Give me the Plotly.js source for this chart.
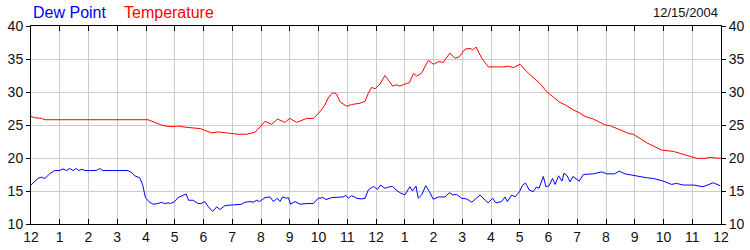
<!DOCTYPE html>
<html>
<head>
<meta charset="utf-8">
<script src="https://cdn.plot.ly/plotly-3.0.1.min.js"></script>
<style>html,body{margin:0;padding:0;background:#fff;}#chart{width:750px;height:250px;}</style>
</head>
<body>
<div id="chart"></div>
<script>
// Hours since midnight 12/15/2004
const tempHours = [0.0,0.13,0.36,0.5,4.07,4.3,4.59,4.88,5.11,5.4,5.69,5.9,6.04,6.28,6.52,6.75,6.92,7.2,7.5,7.79,7.97,8.14,8.37,8.57,8.83,9.0,9.24,9.59,9.82,10.05,10.2,10.34,10.49,10.63,10.75,10.98,11.15,11.44,11.62,11.73,11.85,11.97,12.14,12.31,12.43,12.58,12.72,12.83,13.07,13.16,13.3,13.42,13.59,13.82,14.0,14.17,14.34,14.57,14.75,14.9,15.1,15.27,15.36,15.48,15.68,15.91,16.43,16.6,16.78,17.01,17.24,17.45,17.7,17.94,18.23,18.4,18.6,18.86,19.1,19.27,19.56,19.75,19.97,20.14,20.35,20.6,20.8,20.95,21.2,21.42,21.7,21.94,22.34,22.6,22.81,23.16,23.45,23.62,23.8,24.0];
const temperature = [26.3,26.1,26.0,25.8,25.8,25.35,24.9,24.75,24.85,24.65,24.5,24.45,24.2,23.8,23.95,23.8,23.7,23.6,23.6,23.9,24.7,25.55,25.1,25.9,25.4,26.0,25.4,26.0,26.0,27.0,27.9,29.1,29.9,29.7,28.5,27.85,28.1,28.3,28.6,29.8,30.7,30.5,31.2,32.5,31.8,30.9,31.1,30.9,31.3,31.4,32.8,32.4,32.9,34.8,34.2,34.6,34.5,35.9,35.1,35.35,36.5,36.6,36.4,36.8,35.1,33.8,33.8,33.9,33.7,34.2,33.1,32.3,31.3,30.05,29.0,28.4,28.0,27.3,26.8,26.3,25.9,25.5,25.0,24.9,24.5,24.0,23.7,23.6,22.9,22.3,21.7,21.2,21.0,20.7,20.45,19.95,19.95,20.1,20.0,19.95];

const dewHours = [0.0,0.07,0.24,0.36,0.48,0.65,0.82,1.0,1.11,1.23,1.35,1.46,1.58,1.66,1.77,1.87,2.27,2.39,2.5,3.37,3.5,3.61,3.78,3.88,3.98,4.1,4.24,4.42,4.53,4.65,4.77,4.86,5.0,5.11,5.29,5.4,5.48,5.63,5.81,5.92,6.04,6.17,6.32,6.46,6.57,6.75,7.04,7.33,7.44,7.62,7.73,7.85,7.95,8.14,8.31,8.43,8.57,8.66,8.75,8.89,8.95,9.03,9.18,9.36,9.6,9.82,9.99,10.17,10.26,10.46,10.86,10.95,11.04,11.15,11.33,11.5,11.62,11.73,11.91,12.05,12.16,12.31,12.43,12.58,12.7,12.83,13.0,13.18,13.27,13.39,13.47,13.59,13.73,13.86,13.99,14.17,14.4,14.55,14.67,14.8,14.98,15.15,15.33,15.45,15.62,15.8,15.9,16.06,16.17,16.37,16.49,16.57,16.72,16.84,16.99,17.1,17.2,17.33,17.47,17.58,17.67,17.82,17.91,18.02,18.14,18.23,18.35,18.47,18.54,18.65,18.75,18.85,19.07,19.21,19.56,19.85,20.02,20.3,20.46,20.66,21.01,21.2,21.42,21.65,21.99,22.28,22.45,22.69,23.05,23.38,23.6,23.73,23.97];
const dewPoint = [15.9,16.2,16.9,17.1,16.9,17.6,18.1,18.1,18.35,18.1,18.4,18.1,18.4,18.1,18.3,18.1,18.1,18.4,18.1,18.1,17.8,17.3,17.0,16.0,14.0,13.4,13.0,13.1,13.3,13.1,13.2,13.1,13.4,14.0,14.35,14.55,13.6,13.6,13.1,13.1,13.4,12.6,11.9,12.6,12.2,12.8,12.9,13.0,13.3,13.4,13.3,13.6,13.4,14.0,14.1,13.4,13.9,13.4,14.1,13.9,14.0,13.0,13.4,13.0,13.1,13.1,13.9,14.0,13.7,14.0,14.1,14.35,13.9,14.3,13.9,13.8,13.9,15.15,15.7,15.25,15.9,15.4,15.6,15.7,15.15,14.75,14.4,15.65,15.0,15.75,13.9,14.4,15.8,14.9,13.75,14.1,14.1,14.75,14.4,14.5,13.9,13.8,13.3,13.7,14.4,13.6,13.2,13.9,13.2,13.4,14.1,13.4,14.4,14.1,14.9,15.9,16.2,15.15,14.9,15.6,15.4,17.2,15.65,15.8,16.9,16.0,17.3,16.5,17.7,17.3,16.4,17.2,16.5,17.5,17.6,17.9,17.6,17.6,18.0,17.6,17.3,17.2,17.0,16.9,16.5,16.0,16.15,15.9,15.9,15.65,16.1,16.25,15.8];

const hourTicks = [0,1,2,3,4,5,6,7,8,9,10,11,12,13,14,15,16,17,18,19,20,21,22,23,24];
const hourLabels = ["12","1","2","3","4","5","6","7","8","9","10","11","12","1","2","3","4","5","6","7","8","9","10","11","12"];
const yTicks = [10,15,20,25,30,35,40];
const dateLabel = "12/15/2004";

const font = "Arial, 'Liberation Sans', sans-serif";
const tickFont = {family: font, size: 14, color: "#111"};

const traces = [
  {x: dewHours, y: dewPoint, type: "scatter", mode: "lines", name: "Dew Point",
   line: {color: "#0000ff", width: 1}, xaxis: "x", yaxis: "y"},
  {x: tempHours, y: temperature, type: "scatter", mode: "lines", name: "Temperature",
   line: {color: "#ff0000", width: 1}, xaxis: "x", yaxis: "y2"}
];

const layout = {
  width: 750, height: 250,
  margin: {l: 31, r: 29, t: 26, b: 26, pad: 0},
  paper_bgcolor: "#fff", plot_bgcolor: "#fff",
  showlegend: false,
  xaxis: {
    range: [0, 24], tickvals: hourTicks, ticktext: hourLabels,
    ticks: "inside", ticklen: 5, tickcolor: "#000", tickwidth: 1,
    showline: true, linecolor: "#000", linewidth: 1, mirror: "ticks",
    showgrid: true, gridcolor: "#cccccc", gridwidth: 1, zeroline: false,
    tickfont: tickFont, fixedrange: true
  },
  yaxis: {
    range: [10, 40], tickvals: yTicks,
    ticks: "outside", ticklen: 4, tickcolor: "#000", tickwidth: 1,
    showline: true, linecolor: "#000", linewidth: 1,
    showgrid: true, gridcolor: "#cccccc", gridwidth: 1, zeroline: false,
    tickfont: tickFont, fixedrange: true
  },
  yaxis2: {
    range: [10, 40], tickvals: yTicks, overlaying: "y", side: "right",
    ticks: "outside", ticklen: 4, tickcolor: "#000", tickwidth: 1,
    showline: true, linecolor: "#000", linewidth: 1,
    showgrid: false, zeroline: false,
    tickfont: tickFont, fixedrange: true
  },
  annotations: [
    {text: "Dew Point", xref: "paper", yref: "paper", x: 0.0005, y: 1.066, xanchor: "left", yanchor: "middle",
     showarrow: false, font: {family: font, size: 16, color: "#0000ff"}},
    {text: "Temperature", xref: "paper", yref: "paper", x: 0.132, y: 1.066, xanchor: "left", yanchor: "middle",
     showarrow: false, font: {family: font, size: 16, color: "#ff0000"}},
    {text: dateLabel, xref: "paper", yref: "paper", x: 0.998, y: 1.066, xanchor: "right", yanchor: "middle",
     showarrow: false, font: {family: font, size: 13, color: "#111"}}
  ]
};

Plotly.newPlot("chart", traces, layout, {staticPlot: true, displayModeBar: false});
</script>
</body>
</html>
